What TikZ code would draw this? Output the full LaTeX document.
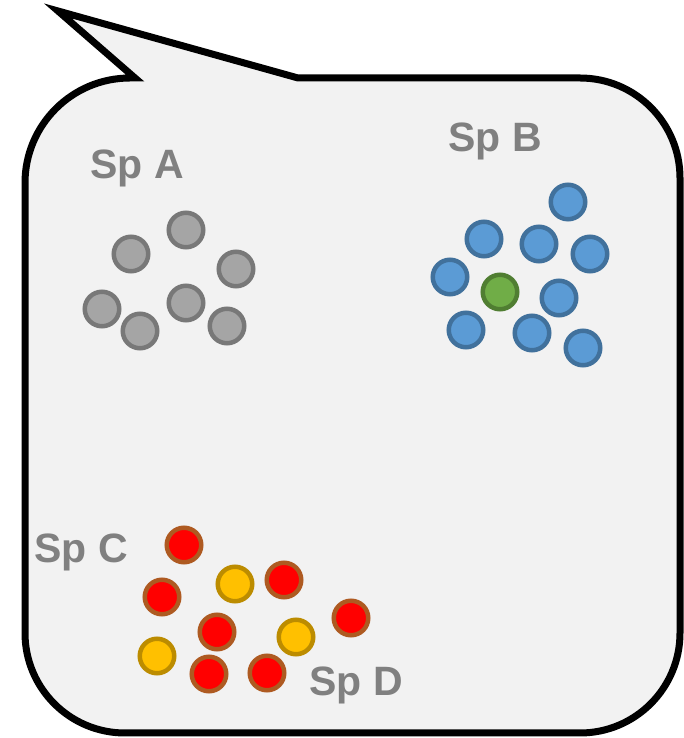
\documentclass[tikz,border=0pt]{standalone}
\usepackage{fontspec}
\setmainfont{Liberation Sans}
\usepackage{tikz}
\usetikzlibrary{positioning}

\definecolor{bubblefill}{HTML}{F2F2F2}
\definecolor{labelgray}{HTML}{808080}
\definecolor{grayfill}{HTML}{A5A5A5}
\definecolor{grayline}{HTML}{787878}
\definecolor{bluefill}{HTML}{5B9BD5}
\definecolor{blueline}{HTML}{41719C}
\definecolor{greenfill}{HTML}{70AD47}
\definecolor{greenline}{HTML}{507E32}
\definecolor{redfill}{HTML}{FF0000}
\definecolor{redline}{HTML}{AE5A21}
\definecolor{yellowfill}{HTML}{FFC000}
\definecolor{yellowline}{HTML}{BC8C00}

\begin{document}
\begin{tikzpicture}[
    x=1pt, y=1pt,
    font=\fontsize{41}{48}\selectfont\bfseries,
    bubble/.style={
      draw=black,
      fill=bubblefill,
      line width=7pt,
      line join=miter,
    },
    dot/.style={
      circle,
      inner sep=0pt,
      minimum size=34.5pt,
      line width=4.5pt,
    },
    graydot/.style={dot, draw=grayline, fill=grayfill},
    bluedot/.style={dot, draw=blueline, fill=bluefill},
    greendot/.style={dot, draw=greenline, fill=greenfill},
    reddot/.style={dot, draw=redline, fill=redfill},
    yellowdot/.style={dot, draw=yellowline, fill=yellowfill},
    species/.style={text=labelgray, anchor=base, inner sep=0pt},
  ]
    \useasboundingbox (0,0) rectangle (684,738);

    % speech bubble
    \draw[bubble] (135,660) -- (58,727) -- (298,660) -- (580,660)
      arc[start angle=90, end angle=0, radius=100] -- (680,105)
      arc[start angle=0, end angle=-90, radius=100] -- (125,5)
      arc[start angle=270, end angle=180, radius=100] -- (25,555)
      arc[start angle=180, end angle=90, radius=105] -- cycle;

    % Sp A
    \node[species] (SpA) at (137,559) {Sp A};
    \node[graydot] (A1) at (186,508) {};
    \node[graydot] (A2) at (131,484) {};
    \node[graydot] (A3) at (236,469) {};
    \node[graydot] (A4) at (102,429) {};
    \node[graydot] (A5) at (186,435) {};
    \node[graydot] (A6) at (140,407) {};
    \node[graydot] (A7) at (227,412) {};

    % Sp B
    \node[species] (SpB) at (495,586) {Sp B};
    \node[bluedot] (B1) at (568,536) {};
    \node[bluedot] (B2) at (484,499) {};
    \node[bluedot] (B3) at (539,494) {};
    \node[bluedot] (B4) at (590,484) {};
    \node[bluedot] (B5) at (450,461) {};
    \node[greendot] (B6) at (500,446) {};
    \node[bluedot] (B7) at (559,440) {};
    \node[bluedot] (B8) at (466,408) {};
    \node[bluedot] (B9) at (532,405) {};
    \node[bluedot] (B10) at (583,390) {};

    % Sp C and Sp D
    \node[species] (SpC) at (81,175) {Sp C};
    \node[species] (SpD) at (356,42) {Sp D};
    \node[reddot] (C1) at (184,193) {};
    \node[reddot] (C2) at (162,141) {};
    \node[yellowdot] (D1) at (235,154) {};
    \node[reddot] (C3) at (284,158) {};
    \node[reddot] (C4) at (351,120) {};
    \node[reddot] (C5) at (217,106) {};
    \node[yellowdot] (D2) at (296,101) {};
    \node[yellowdot] (D3) at (157,82) {};
    \node[reddot] (C6) at (209,64) {};
    \node[reddot] (C7) at (267,65) {};
\end{tikzpicture}
\end{document}
